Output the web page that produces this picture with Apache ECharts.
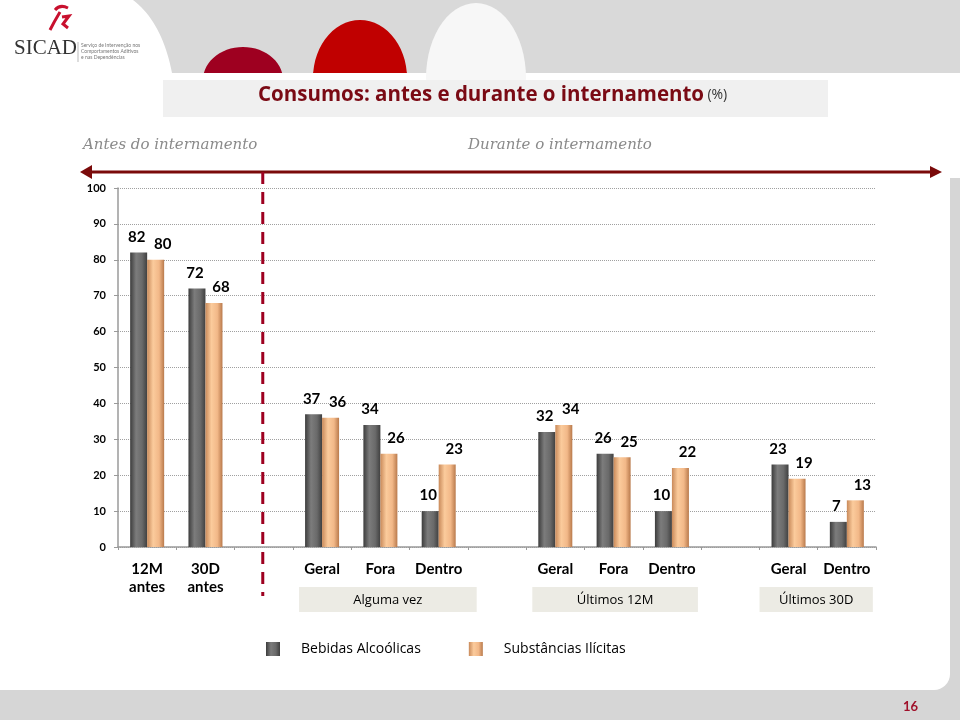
<!DOCTYPE html>
<html><head><meta charset="utf-8">
<script src="https://cdn.jsdelivr.net/npm/echarts@6/dist/echarts.min.js"></script>
<style>html,body{margin:0;padding:0;background:#fff}#c{width:960px;height:720px}</style>
</head><body><div id="c"></div>
<script>
const categories = ['12M\nantes','30D\nantes','','Geral','Fora','Dentro','','Geral','Fora','Dentro','','Geral','Dentro'];
const alcohol = [82,72,null,37,34,10,null,32,26,10,null,23,7];
const illicit = [80,68,null,36,26,23,null,34,25,22,null,19,13];
const seriesNames = ['Bebidas Alcoólicas','Substâncias Ilícitas'];
const yTicks = [0,10,20,30,40,50,60,70,80,90,100];
const groups = [
  {label:'Alguma vez', from:3, to:5},
  {label:'Últimos 12M', from:7, to:9},
  {label:'Últimos 30D', from:11, to:12}
];
const groupPads = [[23,38],[23,26],[29,26]];
const dividerIndex = 2;

const chart = echarts.init(document.getElementById('c'));
const F = 'Lato, "Open Sans", sans-serif';
const F2 = '"Open Sans", Lato, sans-serif';
const grayGrad = new echarts.graphic.LinearGradient(0,0,1,0,[{offset:0,color:'#3c3c3c'},{offset:0.35,color:'#7c7c7c'},{offset:0.7,color:'#6a6a6a'},{offset:1,color:'#404040'}]);
const peachGrad = new echarts.graphic.LinearGradient(0,0,1,0,[{offset:0,color:'#c98a5a'},{offset:0.35,color:'#fbcb9c'},{offset:0.7,color:'#f2b888'},{offset:1,color:'#b97a4c'}]);

function ellipsePts(cx,cy,rx,ry,ymax){
  const p=[];
  for(let i=0;i<=60;i++){const a=Math.PI*2*i/60;p.push([cx+rx*Math.cos(a),Math.min(ymax,cy+ry*Math.sin(a))]);}
  return p;
}
function bandPts(){
  const p=[];
  for(let i=0;i<=20;i++){const t=i/20;const x=(1-t)*(1-t)*133+2*(1-t)*t*162+t*t*172;const y=2*(1-t)*t*22+t*t*73;p.push([x,y]);}
  p.push([960,73]);p.push([960,0]);
  return p;
}

const bgGraphics = [
  {type:'rect', z:-20, shape:{x:0,y:178,width:960,height:542}, style:{fill:'#d6d6d6'}},
  {type:'rect', z:-19, shape:{x:0,y:73,width:950,height:617,r:[0,0,16,0]}, style:{fill:'#ffffff'}},
  {type:'polygon', z:-18, shape:{points:bandPts()}, style:{fill:'#d9d9d9'}},
  {type:'polygon', z:-17, shape:{points:ellipsePts(243,80,40,33,73)}, style:{fill:'#9e0020'}},
  {type:'polygon', z:-17, shape:{points:ellipsePts(360,78,47,58,73)}, style:{fill:'#c00000'}},
  {type:'polygon', z:-17, shape:{points:ellipsePts(476,78,50,75,80)}, style:{fill:'#f7f7f7'}},
  {type:'rect', z:-15, shape:{x:163,y:80,width:665,height:37}, style:{fill:'#f0f0f0'}},
  {type:'text', z:5, left:258, top:85, style:{rich:{a:{fontFamily:F2,fontWeight:'bold',fontSize:20.5,fill:'#7a0a14'},b:{fontFamily:F2,fontSize:14,fill:'#333'}}, text:'{a|Consumos: antes e durante o internamento} {b|(%)}'}},
  {type:'text', z:5, left:83, top:138, style:{text:'Antes do internamento', fontFamily:'"DejaVu Serif", serif', fontStyle:'italic', fontSize:15, fill:'#8a8a8a'}},
  {type:'text', z:5, left:468, top:138, style:{text:'Durante o internamento', fontFamily:'"DejaVu Serif", serif', fontStyle:'italic', fontSize:15, fill:'#8a8a8a'}},
  {type:'line', z:5, shape:{x1:86,y1:172,x2:936,y2:172}, style:{stroke:'#7a0a0a',lineWidth:3}},
  {type:'polygon', z:5, shape:{points:[[80,172],[92,165],[92,179]]}, style:{fill:'#7a0a0a'}},
  {type:'polygon', z:5, shape:{points:[[942,172],[930,166],[930,178]]}, style:{fill:'#7a0a0a'}},
  {type:'text', z:5, left:14, top:38, style:{text:'SICAD', fontFamily:'"Liberation Serif", serif', fontSize:21, fill:'#333'}},
  {type:'line', z:5, shape:{x1:78,y1:42,x2:78,y2:62}, style:{stroke:'#bbb',lineWidth:1}},
  {type:'text', z:5, left:81, top:42, style:{text:'Serviço de Intervenção nos\nComportamentos Aditivos\ne nas Dependências', fontFamily:F, fontSize:5, lineHeight:6, fill:'#777'}},
  {type:'bezierCurve', z:5, shape:{x1:55,y1:10,x2:68,y2:8,cpx1:60,cpy1:4}, style:{stroke:'#c8102e',lineWidth:3,fill:null}},
  {type:'bezierCurve', z:5, shape:{x1:60,y1:12,x2:50,y2:30,cpx1:54,cpy1:22}, style:{stroke:'#c8102e',lineWidth:3,fill:null}},
  {type:'polyline', z:5, shape:{points:[[62,17],[69,16],[63,24],[68,28]]}, style:{stroke:'#c8102e',lineWidth:3,fill:null}},
  {type:'text', z:5, left:903, top:700, style:{text:'16', fontFamily:F, fontWeight:'bold', fontSize:13, fill:'#a0102a'}}
];

const lbl = (dx)=>({show:true,position:'top',distance:8,offset:[dx,0],color:'#000',fontWeight:'bold',fontSize:15,fontFamily:F});

chart.setOption({
  animation:false,
  textStyle:{fontFamily:F},
  grid:{left:118,right:84,top:188,bottom:173},
  legend:{data:seriesNames, left:261, top:637, itemWidth:14, itemHeight:14, itemGap:48, icon:'rect',
    textStyle:{fontFamily:F2, fontSize:14, color:'#000', padding:[0,0,0,16]}},
  xAxis:{type:'category', data:categories,
    axisLine:{lineStyle:{color:'#9a9a9a',width:1.5}},
    axisTick:{show:true,length:3,lineStyle:{color:'#9a9a9a'}},
    axisLabel:{interval:0,color:'#000',fontWeight:'bold',fontSize:15,fontFamily:F,lineHeight:18,margin:13}},
  yAxis:{type:'value', min:0, max:100, interval:10,
    axisLine:{show:true,lineStyle:{color:'#9a9a9a',width:1.5}},
    axisTick:{show:true,length:4,lineStyle:{color:'#9a9a9a'}},
    splitLine:{lineStyle:{color:'#a0a0a0',type:'dotted'}},
    axisLabel:{color:'#000',fontWeight:'bold',fontSize:11,fontFamily:F,margin:12,
      formatter:v=>yTicks.includes(v)?String(v):''}},
  series:[
    {name:seriesNames[0], type:'bar', data:alcohol, barWidth:17, barGap:'0%',
      itemStyle:{color:grayGrad}, label:lbl(-2)},
    {name:seriesNames[1], type:'bar', data:illicit, barWidth:17, barGap:'0%',
      itemStyle:{color:peachGrad}, label:lbl(7)}
  ],
  graphic:bgGraphics
});

const extra = [];
groups.forEach((g,i)=>{
  const x0 = chart.convertToPixel({xAxisIndex:0}, g.from) - groupPads[i][0];
  const x1 = chart.convertToPixel({xAxisIndex:0}, g.to) + groupPads[i][1];
  extra.push({type:'rect', z:4, shape:{x:x0,y:587,width:x1-x0,height:25}, style:{fill:'#ecebe4'}});
  extra.push({type:'text', z:5, x:(x0+x1)/2, y:600, style:{text:g.label, fontFamily:F2, fontSize:13, fill:'#000', align:'center', verticalAlign:'middle'}});
});
const dx = chart.convertToPixel({xAxisIndex:0}, dividerIndex) - 1;
extra.push({type:'line', z:6, shape:{x1:dx,y1:172,x2:dx,y2:596}, style:{stroke:'#9e0020',lineWidth:3,lineDash:[12,8]}});
chart.setOption({graphic:bgGraphics.concat(extra)});
</script></body></html>
